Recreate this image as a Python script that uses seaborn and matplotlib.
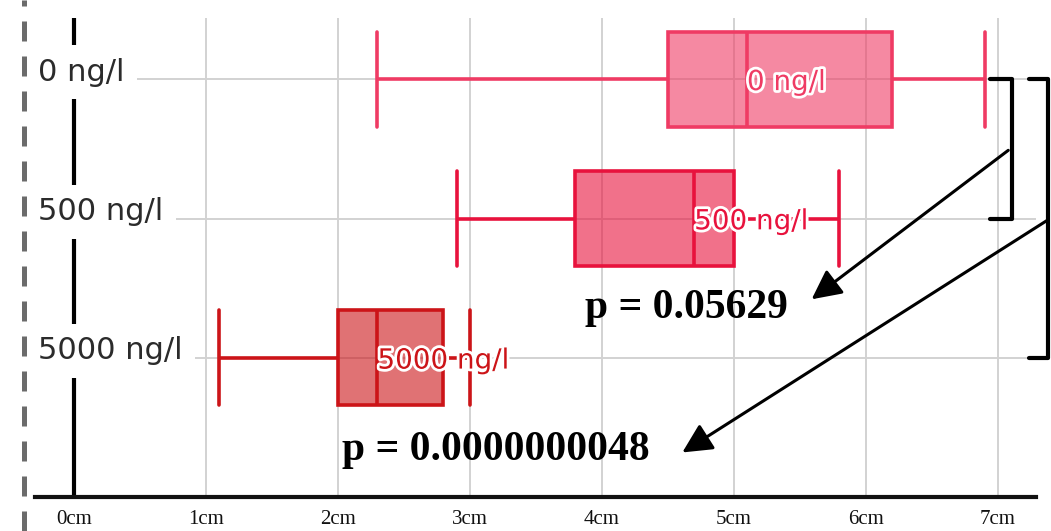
import matplotlib
matplotlib.use('Agg')
import matplotlib.pyplot as plt
import matplotlib.patheffects as pe
from matplotlib.lines import Line2D
import seaborn as sns
import pandas as pd

groups = ['0 ng/l', '500 ng/l', '5000 ng/l']
# min, q1, median, q3, max (cm)
len_0 = [2.3, 4.5, 5.1, 6.2, 6.9]
len_500 = [2.9, 3.8, 4.7, 5.0, 5.8]
len_5000 = [1.1, 2.0, 2.3, 2.8, 3.0]
edge_colors = ['#ef3b64', '#e8123d', '#cc1418']
x_ticks = [0, 1, 2, 3, 4, 5, 6, 7]
x_labels = [str(t) + 'cm' for t in x_ticks]
p_values = ['p = 0.05629', 'p = 0.0000000048']

df = pd.DataFrame({
    'group': [groups[0]] * len(len_0) + [groups[1]] * len(len_500) + [groups[2]] * len(len_5000),
    'length': len_0 + len_500 + len_5000,
})
medians = df.groupby('group').length.median()

sns.set_style('whitegrid', {'grid.color': '#d2d2d2'})
fig = plt.figure(figsize=(10.51, 5.31), dpi=100)
ax = fig.add_axes([0.0333, 0.064, 0.9524, 0.902])

for g, c in zip(groups, edge_colors):
    sns.boxplot(data=df[df.group == g], x='length', y='group', order=groups, orient='h',
                color=c, linecolor=c, saturation=1, width=0.68, whis=(0, 100),
                linewidth=2.6, capwidths=0.68, ax=ax)

# translucent fills so the grid shows through
for patch, c in zip(ax.patches, edge_colors):
    patch.set_facecolor(matplotlib.colors.to_rgba(c, 0.6))

ax.set_xlim(-0.295, 7.29)
ax.set_ylim(3.0, -0.44)
ax.set_xticks(x_ticks)
ax.set_xticklabels(x_labels, family='Liberation Serif', fontsize=15, color='#111111')
ax.set_yticks(range(len(groups)))
ax.set_yticklabels([])
ax.tick_params(axis='x', length=0, pad=9)
ax.tick_params(axis='y', length=0)
ax.set_xlabel('')
ax.set_ylabel('')
ax.grid(True, lw=1.4)
for s in ['top', 'right', 'left']:
    ax.spines[s].set_visible(False)
ax.spines['bottom'].set_color('#111111')
ax.spines['bottom'].set_linewidth(3)

# broken y axis at 0cm
ax.axvline(0, color='black', lw=3, zorder=2)
for i, g in enumerate(groups):
    ax.text(-0.27, i - 0.05, g, fontsize=22, color='#2b2b2b', ha='left', va='center',
            zorder=4, bbox=dict(facecolor='white', edgecolor='none', pad=9))

# in-box labels
for i, (g, c) in enumerate(zip(groups, edge_colors)):
    ax.text(medians[g], i + 0.02, g, fontsize=20, color=c, ha='left', va='center', zorder=5,
            path_effects=[pe.withStroke(linewidth=4, foreground='white')])

# brackets
ax.plot([6.94, 7.11, 7.11, 6.94], [0, 0, 1, 1], color='black', lw=3, clip_on=False, zorder=6)
ax.plot([7.24, 7.38, 7.38, 7.24], [0, 0, 2, 2], color='black', lw=3, clip_on=False, zorder=6)

arrow = dict(arrowstyle='-|>,head_length=0.6,head_width=0.3', mutation_scale=30,
             color='black', lw=2.2, shrinkA=0, shrinkB=0)
ax.annotate('', xy=(5.59, 1.58), xytext=(7.08, 0.51), arrowprops=arrow, annotation_clip=False)
ax.annotate('', xy=(4.61, 2.68), xytext=(7.38, 1.01), arrowprops=arrow, annotation_clip=False)

ax.text(4.64, 1.64, p_values[0], family='Liberation Serif', weight='bold', fontsize=30,
        color='black', ha='center', va='center', zorder=6)
ax.text(3.2, 2.66, p_values[1], family='Liberation Serif', weight='bold', fontsize=30,
        color='black', ha='center', va='center', zorder=6)

fig.add_artist(Line2D([0.023, 0.023], [0, 1], transform=fig.transFigure,
                      color='#6b6b6b', lw=3.6, dashes=(4, 3)))

fig.savefig('out.png', dpi=100)
